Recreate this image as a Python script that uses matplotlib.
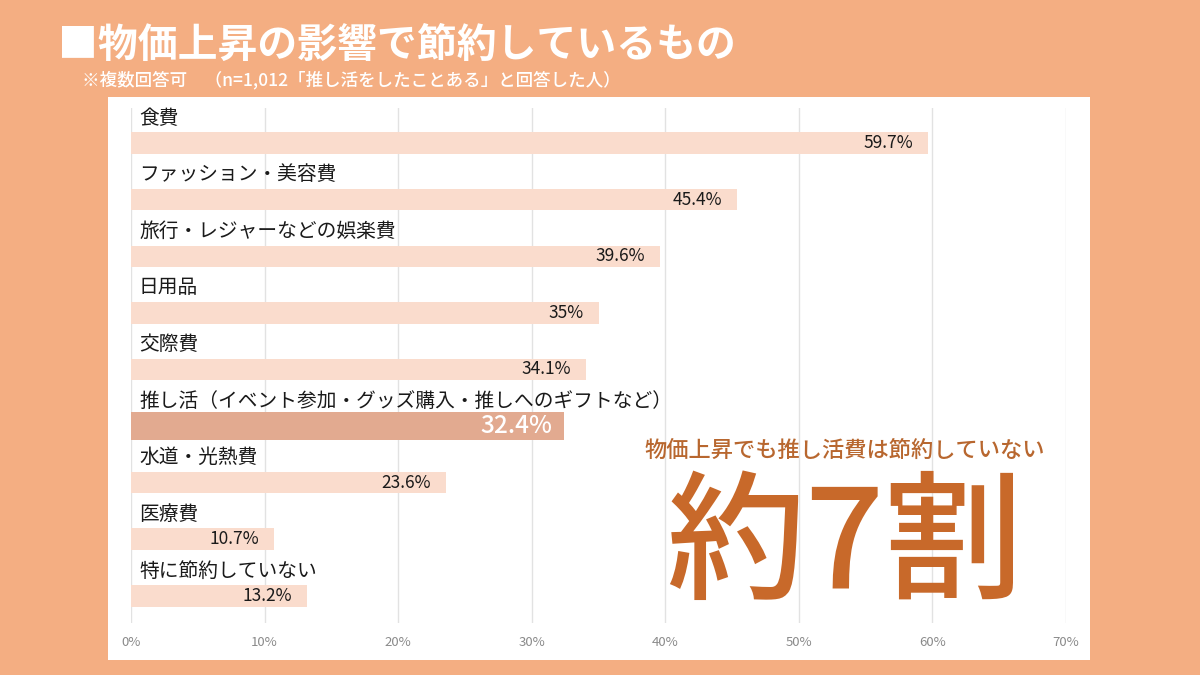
import matplotlib.pyplot as plt
from matplotlib.patches import Rectangle

plt.rcParams['font.family'] = ['Noto Sans CJK JP', 'DejaVu Sans']

categories = ["食費", "ファッション・美容費", "旅行・レジャーなどの娯楽費", "日用品", "交際費",
              "推し活（イベント参加・グッズ購入・推しへのギフトなど）", "水道・光熱費", "医療費",
              "特に節約していない"]
values = [59.7, 45.4, 39.6, 35, 34.1, 32.4, 23.6, 10.7, 13.2]
value_labels = ["59.7%", "45.4%", "39.6%", "35%", "34.1%", "32.4%", "23.6%", "10.7%", "13.2%"]
highlight = 5
xticks = [0, 10, 20, 30, 40, 50, 60, 70]

bg = "#F4AE82"
bar_light = "#FADCCD"
bar_dark = "#E2AA90"
accent = "#C8692A"

fig = plt.figure(figsize=(12, 6.75), dpi=100, facecolor=bg)
fig.patches.append(Rectangle((108 / 1200, 1 - 660 / 675), 982 / 1200, 563 / 675,
                             transform=fig.transFigure, facecolor="white", edgecolor="none", zorder=-5))

ax = fig.add_axes([131 / 1200, 1 - 623 / 675, 935 / 1200, 515 / 675], zorder=2)
ax.set_facecolor("none")
ax.set_xlim(0, 70)
ax.set_ylim(8.48, -0.62)

for i, (cat, v, lab) in enumerate(zip(categories, values, value_labels)):
    hl = i == highlight
    ax.barh(i, v, height=0.5 if hl else 0.38, color=bar_dark if hl else bar_light, zorder=2)
    ax.text(0.6, i - 0.44, cat, ha="left", va="center", fontsize=14.2, color="#1a1a1a", zorder=3)
    if hl:
        ax.annotate(lab, (v, i), xytext=(-8, 0), textcoords="offset points", ha="right", va="center",
                    fontsize=17.5, fontweight="medium", color="white", zorder=3)
    else:
        ax.annotate(lab, (v, i), xytext=(-11, 0), textcoords="offset points", ha="right", va="center",
                    fontsize=12.5, color="#1a1a1a", zorder=3)

ax.set_xticks(xticks)
ax.set_xticklabels([f"{t}%" for t in xticks], fontsize=9.5, color="#8a8a8a")
ax.set_yticks([])
ax.tick_params(axis="x", length=0, pad=9)
ax.grid(axis="x", color="#E2E2E2", linewidth=1, zorder=1)
for s in ax.spines.values():
    s.set_visible(False)

fig.text(58 / 1200, 1 - 45 / 675, "■物価上昇の影響で節約しているもの", fontsize=28.7, fontweight="bold",
         color="white", ha="left", va="center")
fig.text(82 / 1200, 1 - 80 / 675, "※複数回答可　（n=1,012「推し活をしたことある」と回答した人）",
         fontsize=12.6, fontweight="medium", color="white", ha="left", va="center")

fig.text(845 / 1200, 1 - 450 / 675, "物価上昇でも推し活費は節約していない", fontsize=16,
         fontweight="medium", color="#B8672F", ha="center", va="center", zorder=5)
fig.text(845 / 1200, 1 - 548 / 675, "約7割", fontsize=100, fontweight="medium",
         color=accent, ha="center", va="center", zorder=5)

fig.savefig("out.png", dpi=100, facecolor=bg)
